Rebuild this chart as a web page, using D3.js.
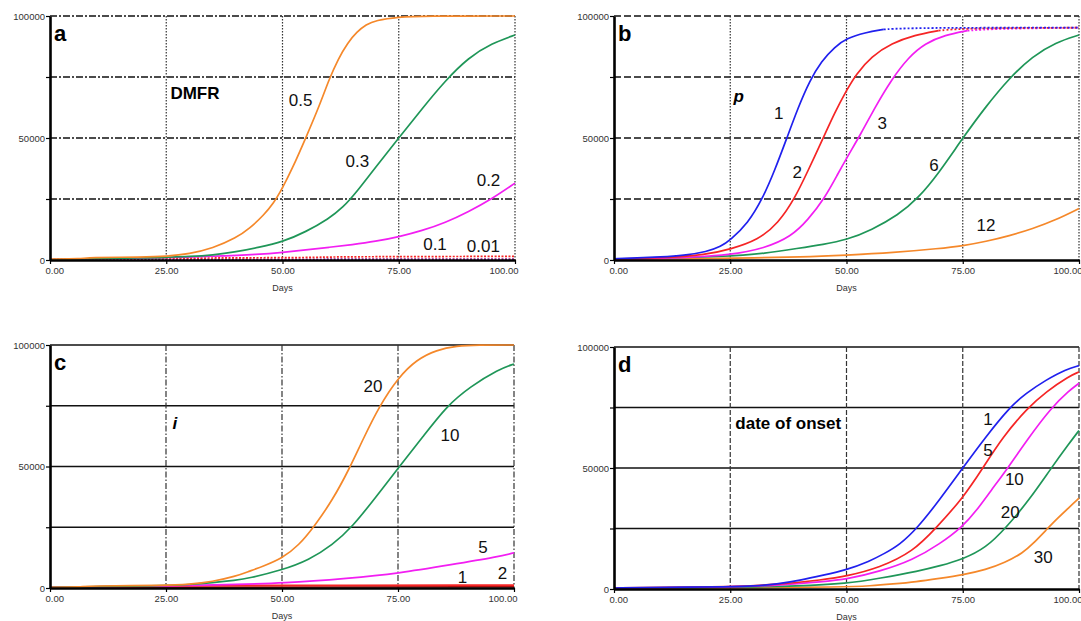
<!DOCTYPE html>
<html>
<head>
<meta charset="utf-8">
<script src="https://cdn.jsdelivr.net/npm/d3@7"></script>
<style>
  body { margin: 0; background: #fff; }
  svg { display: block; font-family: "Liberation Sans", Arial, sans-serif; }
</style>
</head>
<body>
<svg id="chart" width="1081" height="621"></svg>
<script>
// tick values shared by all four panels
const dayTicks = [0, 25, 50, 75, 100];
const countTicks = [0, 25000, 50000, 75000, 100000];

// series colours
const orange = "#f5882a", green = "#1f9658", magenta = "#f21ef2", blue = "#2020ee", red = "#f52525";

// panel a: DMFR  (day, cumulative count)
const aDmfr05 = [[0,400],[7,500],[8,1000],[20,1200],[25,1500],[30,2500],[35,4800],[40,9000],[43,13000],[46,18500],[48,23000],[50,29500],[52,37000],[55,50000],[58,63500],[60,74000],[62,82500],[64,89000],[66,93500],[68,96500],[70,98200],[75,99600],[80,100000],[100,100000]];
const aDmfr03 = [[0,200],[22,900],[25,1100],[30,1400],[35,2000],[40,3300],[45,5200],[50,7400],[55,11500],[60,17000],[63,21500],[66,28000],[70,38000],[75,50000],[80,62000],[85,73500],[90,83000],[95,88800],[100,92200]];
const aDmfr02 = [[0,200],[25,900],[35,1500],[45,2300],[50,3100],[55,4100],[60,5200],[65,6300],[70,7600],[75,9500],[80,12000],[85,15300],[90,19800],[95,25000],[100,31500]];
const aDmfr01 = [[0,300],[25,700],[40,900],[57,1000],[60,1300],[80,1400],[100,1500]];
const aDmfr001 = [[0,200],[50,300],[100,400]];

// panel b: p
const bP1 = [[0,500],[5,900],[10,1200],[15,1800],[20,3400],[23,5500],[25,8200],[28.8,15000],[32,25300],[34.6,36900],[37.1,49600],[39.6,62500],[42.1,73500],[44.6,81500],[47.5,87400],[50,90800],[54,93200],[58,94500],[64,95200],[100,95200]];
const bP2 = [[0,400],[10,800],[20,2200],[25,4400],[31,8200],[35.3,15000],[38.9,25300],[41.7,36500],[45,50000],[47.5,60500],[50,69500],[52,76000],[55.4,83500],[59.7,88800],[64.7,92200],[69.8,94000],[75,95000],[100,95200]];
const bP3 = [[0,300],[15,900],[25,2000],[32.4,4800],[38.1,9600],[41.7,16400],[45.3,25300],[48.2,35500],[50,41700],[53.2,52000],[56.1,62500],[59.7,74000],[63.3,83000],[66.9,88800],[71.2,92200],[76,94000],[82,94800],[100,95200]];
const bP6 = [[0,300],[25,1400],[32.4,2700],[39.6,4800],[45,6400],[50,8200],[55.4,12300],[61.1,18400],[65.4,25300],[69.8,35500],[75,50000],[80,63000],[85,74500],[90,83500],[95,89200],[100,92200]];
const bP12 = [[0,300],[20,600],[30,900],[40,1200],[50,2000],[60,3000],[70,4700],[75,5800],[80,7600],[85,9900],[90,12800],[95,16400],[100,21100]];

// panel c: i
const cI20 = [[0,300],[7,400],[8,900],[25,1000],[30,1500],[35,2600],[40,4800],[42.8,6800],[46,9000],[50,12200],[53.6,17500],[56.9,25200],[60.9,36200],[64.5,49000],[67.4,61000],[71,74900],[75,86500],[79,94000],[83.3,98000],[87.7,99600],[92,100000],[100,100000]];
const cI10 = [[0,300],[25,900],[30,1400],[35,2200],[40,3200],[42.8,4000],[50,7400],[55.8,11500],[60.9,17800],[65.2,25200],[70.3,37600],[75,49200],[80.4,62300],[85.5,74900],[90.6,82900],[96.7,90000],[100,92200]];
const cI5 = [[0,300],[25,800],[30,1100],[40,1500],[50,1900],[64.5,4000],[75,6000],[86.2,9500],[96.7,12900],[100,14500]];
const cI2 = [[0,300],[25,700],[30,1100],[100,1200]];
const cI1 = [[0,200],[50,400],[100,500]];

// panel d: date of onset
const dOnset1 = [[0,400],[10,700],[25,900],[30,1200],[35,2000],[40,3600],[45,5700],[50,7900],[55,11500],[58,14500],[61.4,18200],[65.3,25300],[70,36800],[75,50000],[80,63000],[85,74900],[88.6,80900],[92.9,86400],[97.2,90800],[100,92300]];
const dOnset5 = [[0,400],[10,700],[25,900],[35,1800],[45,3800],[50,5300],[57.1,8800],[64.3,15400],[69.3,25300],[75,37500],[79.3,49900],[83.6,62900],[89,74900],[92.9,81500],[97.9,88000],[100,89700]];
const dOnset10 = [[0,300],[25,800],[35,1500],[45,3000],[50,4000],[57.1,7200],[64.3,12000],[70,18500],[75,25800],[78,32500],[81,40500],[84.7,50000],[88.6,61000],[94,74900],[97.9,82000],[100,85000]];
const dOnset20 = [[0,300],[25,700],[40,1200],[50,2200],[57.1,4400],[65.7,7500],[70,9500],[75,12300],[80,17000],[84.3,25300],[89.3,36800],[94,49900],[97.9,60200],[100,65500]];
const dOnset30 = [[0,200],[25,400],[50,800],[55,1300],[60,2100],[65,3000],[70,4400],[75,5800],[80,8000],[84,10800],[88,15000],[90,18500],[93,24500],[95,28500],[98,34000],[100,37500]];

// curve labels: text, day, count
const aLabels = [["0.5", 53.9, 65800], ["0.3", 66.1, 40700], ["0.2", 94.3, 32800], ["0.1", 82.8, 6800], ["0.01", 93.2, 5700]];
const bLabels = [["1", 35.4, 60500], ["2", 39.4, 36200], ["3", 57.7, 56400], ["6", 68.8, 38900], ["12", 80, 14300]];
const cLabels = [["20", 69.6, 83100], ["10", 86.2, 63000], ["5", 93.3, 17000], ["1", 88.9, 4400], ["2", 97.5, 6200]];
const dLabels = [["1", 80.4, 70100], ["5", 80.4, 57400], ["10", 86.1, 45300], ["20", 85.2, 32000], ["30", 92.3, 13100]];

const panels = [
  {
    letter: "a", title: "DMFR", italic: false, titleAt: [25.9, 66700],
    left: 50, right: 515, top: 16, bottom: 260,
    hDash: "7,2,2,2", vDash: "1.5,1.5", topDash: true,
    series: [
      { data: aDmfr001, color: "#8a1a8a", dash: "2,1.5" },
      { data: aDmfr01, color: red, dash: "2,1.5" },
      { data: aDmfr02, color: magenta },
      { data: aDmfr03, color: green },
      { data: aDmfr05, color: orange }
    ],
    labels: aLabels
  },
  {
    letter: "b", title: "p", italic: true, titleAt: [25.7, 65600],
    left: 614, right: 1079, top: 16, bottom: 260,
    hDash: "7,3", vDash: "1.5,1.5", topDash: true,
    series: [
      { data: bP12, color: orange },
      { data: bP6, color: green },
      { data: bP3, color: magenta, dotFrom: 76 },
      { data: bP2, color: red, dotFrom: 69.8 },
      { data: bP1, color: blue, dotFrom: 58 }
    ],
    labels: bLabels
  },
  {
    letter: "c", title: "i", italic: true, titleAt: [26.4, 66400],
    left: 50, right: 514, top: 345, bottom: 588,
    hDash: null, vDash: "6,2,1.5,2", topDash: false,
    series: [
      { data: cI1, color: "#b01010" },
      { data: cI2, color: red },
      { data: cI5, color: magenta },
      { data: cI10, color: green },
      { data: cI20, color: orange }
    ],
    labels: cLabels
  },
  {
    letter: "d", title: "date of onset", italic: false, titleAt: [26.1, 67000],
    left: 614, right: 1079, top: 347, bottom: 589,
    hDash: null, vDash: "5,2", topDash: false,
    series: [
      { data: dOnset30, color: orange },
      { data: dOnset20, color: green },
      { data: dOnset10, color: magenta },
      { data: dOnset5, color: red },
      { data: dOnset1, color: blue }
    ],
    labels: dLabels
  }
];

const svg = d3.select("#chart");

panels.forEach(p => {
  const x = d3.scaleLinear().domain([0, 100]).range([p.left, p.right]);
  const y = d3.scaleLinear().domain([0, 100000]).range([p.bottom, p.top]);
  const g = svg.append("g");

  // horizontal grid lines
  g.selectAll(".hgrid")
    .data(countTicks.filter(v => v > 0))
    .join("line")
    .attr("x1", p.left).attr("x2", p.right)
    .attr("y1", d => y(d)).attr("y2", d => y(d))
    .attr("stroke", "#111")
    .attr("stroke-width", 1.4)
    .attr("stroke-dasharray", d => (d === 100000 && !p.topDash) ? null : p.hDash);

  // vertical grid lines
  g.selectAll(".vgrid")
    .data(dayTicks.filter(v => v > 0))
    .join("line")
    .attr("x1", d => x(d)).attr("x2", d => x(d))
    .attr("y1", p.top).attr("y2", p.bottom)
    .attr("stroke", "#333")
    .attr("stroke-width", 1.2)
    .attr("stroke-dasharray", p.vDash);

  // curves (plateau part dotted where the original is)
  const line = d3.line()
    .x(d => x(d[0]))
    .y(d => y(d[1]))
    .curve(d3.curveBasis);

  p.series.forEach(s => {
    const solid = s.dotFrom ? s.data.filter(d => d[0] <= s.dotFrom) : s.data;
    g.append("path")
      .attr("d", line(solid))
      .attr("fill", "none")
      .attr("stroke", s.color)
      .attr("stroke-width", 1.7)
      .attr("stroke-dasharray", s.dash || null);
    if (s.dotFrom) {
      g.append("path")
        .attr("d", line(s.data.filter(d => d[0] >= s.dotFrom)))
        .attr("fill", "none")
        .attr("stroke", s.color)
        .attr("stroke-width", 1.8)
        .attr("stroke-dasharray", "2,2");
    }
  });

  // y axis
  const yAxis = g.append("g")
    .attr("transform", `translate(${p.left},0)`)
    .call(d3.axisLeft(y)
      .tickValues(countTicks)
      .tickFormat(v => v % 50000 === 0 ? v : "")
      .tickSize(4)
      .tickSizeOuter(0));
  yAxis.select(".domain").attr("stroke", "#000").attr("stroke-width", 2.6);
  yAxis.selectAll(".tick line").attr("stroke", "#000").attr("stroke-width", 1.2);
  yAxis.selectAll(".tick text")
    .attr("font-size", 9.5).attr("fill", "#333")
    .attr("font-family", "Liberation Sans, Arial, sans-serif")
    .attr("x", -5);

  // x axis, end labels pulled inside the frame like the original
  const xAxis = g.append("g")
    .attr("transform", `translate(0,${p.bottom})`)
    .call(d3.axisBottom(x)
      .tickValues(dayTicks)
      .tickFormat(d3.format(".2f"))
      .tickSize(4)
      .tickSizeOuter(0));
  xAxis.select(".domain").attr("stroke", "#000").attr("stroke-width", 2.6);
  xAxis.selectAll(".tick line").attr("stroke", "#000").attr("stroke-width", 1.2);
  xAxis.selectAll(".tick text")
    .attr("font-size", 9.5).attr("fill", "#333")
    .attr("font-family", "Liberation Sans, Arial, sans-serif")
    .attr("y", 7)
    .attr("text-anchor", d => d === 0 ? "start" : d === 100 ? "end" : "middle")
    .attr("dx", d => d === 0 ? -5 : d === 100 ? 3 : 0);

  g.append("text")
    .attr("x", x(50)).attr("y", p.bottom + 31)
    .attr("text-anchor", "middle")
    .attr("font-size", 9).attr("fill", "#333")
    .text("Days");

  // panel letter
  g.append("text")
    .attr("x", p.left + 4).attr("y", p.top + 25)
    .attr("font-size", 22).attr("font-weight", "bold")
    .text(p.letter);

  // panel title
  g.append("text")
    .attr("x", x(p.titleAt[0])).attr("y", y(p.titleAt[1]) + 2)
    .attr("font-size", 17).attr("font-weight", "bold")
    .attr("font-style", p.italic ? "italic" : "normal")
    .text(p.title);

  // curve labels
  g.selectAll(".lbl")
    .data(p.labels)
    .join("text")
    .attr("x", d => x(d[1])).attr("y", d => y(d[2]))
    .attr("dy", "0.36em")
    .attr("text-anchor", "middle")
    .attr("font-size", 17)
    .attr("fill", "#111")
    .text(d => d[0]);
});
</script>
</body>
</html>
